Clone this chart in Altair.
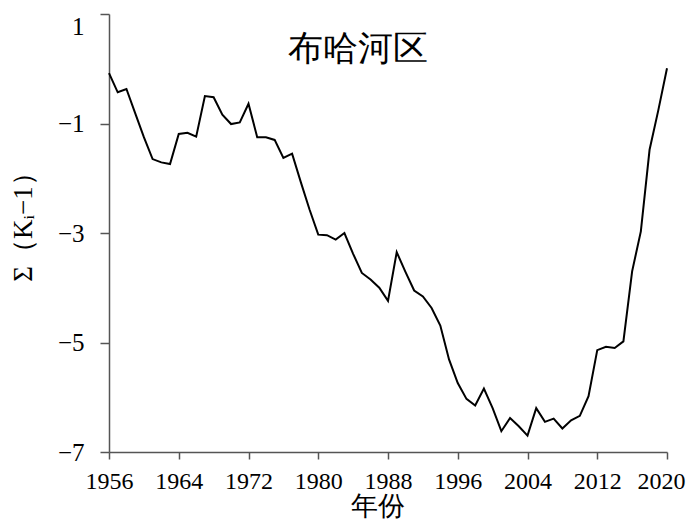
import altair as alt
import pandas as pd

years = list(range(1956, 2021))
values = [
    -0.08, -0.43, -0.37, -0.81, -1.25, -1.65, -1.71, -1.74, -1.19, -1.17,
    -1.24, -0.50, -0.52, -0.84, -1.01, -0.98, -0.64, -1.25, -1.25, -1.30,
    -1.63, -1.55, -2.07, -2.57, -3.03, -3.04, -3.12, -3.00, -3.38, -3.73,
    -3.85, -4.00, -4.24, -3.35, -3.71, -4.05, -4.16, -4.37, -4.69, -5.31,
    -5.74, -6.03, -6.15, -5.84, -6.20, -6.62, -6.38, -6.53, -6.70, -6.20,
    -6.45, -6.39, -6.57, -6.42, -6.34, -5.98, -5.14, -5.08, -5.10, -4.98,
    -3.70, -2.97, -1.48, -0.76, 0.01,
]
x_ticks = [1956, 1964, 1972, 1980, 1988, 1996, 2004, 2012, 2020]
y_ticks = [-7, -5, -3, -1, 1]
panel_title = "布哈河区"

df = pd.DataFrame({"year": years, "value": values})
FONT = "Times New Roman, Liberation Serif, serif"

line = alt.Chart(df).mark_line(color="black", strokeWidth=2).encode(
    x=alt.X(
        "year:Q",
        scale=alt.Scale(domain=[1956, 2020], nice=False, zero=False),
        axis=alt.Axis(
            values=x_ticks, format="d", title="年份", grid=False,
            labelFontSize=24, titleFontSize=27, labelFont=FONT, titleFont=FONT,
            titleFontWeight="normal", labelColor="black", titleColor="black",
            domainColor="#555555", domainWidth=1.5, tickColor="#555555",
            tickWidth=1.5, tickSize=7, labelPadding=10, titlePadding=0,
            titleX=268, titleAlign="center",
            labelOffset={"condition": {"test": "datum.value === 2020", "value": -6}, "value": 0},
            labelFlush=False, labelOverlap=False,
        ),
    ),
    y=alt.Y(
        "value:Q",
        scale=alt.Scale(domain=[-7, 1], nice=False, zero=False),
        axis=alt.Axis(
            values=y_ticks, title="Σ（Kᵢ−1）", grid=False,
            labelFontSize=25, titleFontSize=27, labelFont=FONT, titleFont=FONT,
            titleFontWeight="normal", labelColor="black", titleColor="black",
            domainColor="#555555", domainWidth=1.5, tickColor="#555555",
            tickWidth=1.5, tickSize=9, labelPadding=16, titlePadding=20,
            titleY=206,
            labelBaseline={"condition": {"test": "datum.value === 1", "value": "top"}, "value": "middle"},
            labelFlush=False, labelOverlap=False,
        ),
    ),
)

label = alt.Chart(pd.DataFrame({"t": [panel_title], "x": [1984.6], "y": [0.36]})).mark_text(
    fontSize=35, font=FONT, color="black", baseline="middle", align="center"
).encode(x="x:Q", y="y:Q", text="t:N")

chart = (
    alt.layer(line, label)
    .properties(
        width=558, height=438,
        autosize=alt.AutoSizeParams(type="none"),
        padding={"left": 101, "top": 6, "right": 20, "bottom": 68},
    )
    .configure_view(stroke=None)
)

chart.save("out.html", embed_options={"renderer": "svg", "actions": False})
